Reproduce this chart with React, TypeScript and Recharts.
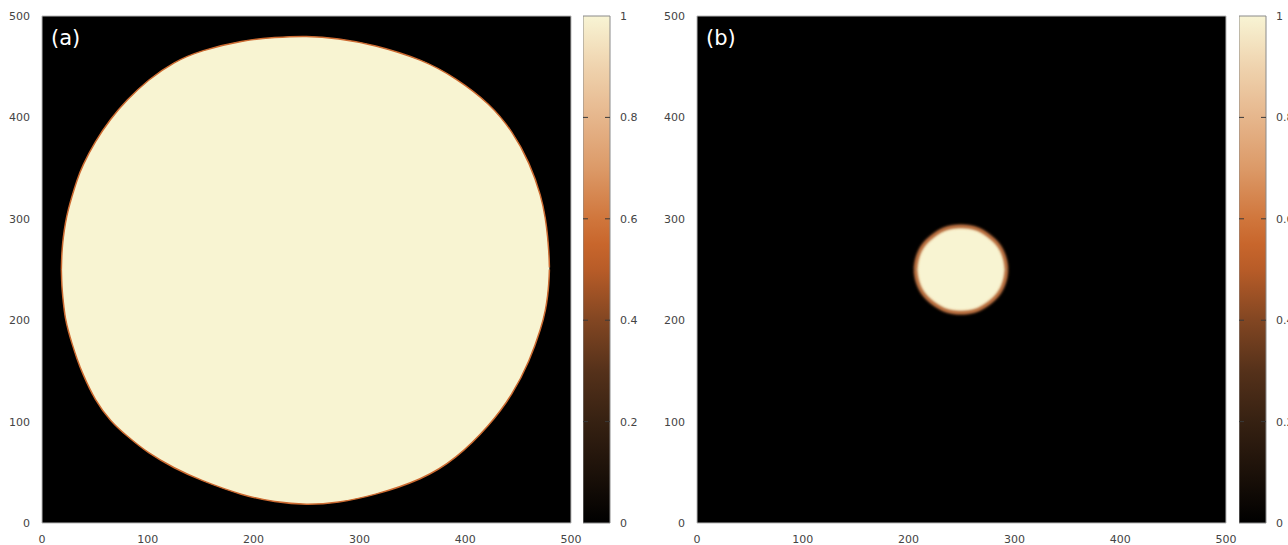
import React from 'react';
import { ComposedChart, Area, XAxis, YAxis, CartesianGrid, ReferenceArea, ReferenceLine } from 'recharts';

const axisTicks = [0, 100, 200, 300, 400, 500];
const colorbarTicks = [0, 0.2, 0.4, 0.6, 0.8, 1];

// (a) outline of the large domain
const bigX = [18.3, 18.6, 19, 20, 22, 25, 28, 33, 38, 50, 65, 80, 100, 125, 150, 190, 220, 250, 280, 313, 360, 391, 423, 445, 461, 472, 476, 478, 479, 479.4, 479.6];
const bigTop = [250, 262, 270, 281, 296, 310, 321, 338, 352, 376, 399, 417, 437, 455, 466, 476, 479, 480.5, 478, 472, 457, 439, 414, 386, 355, 322, 300, 282, 268, 260, 252];
const bigBottom = [250, 238, 230, 219, 201, 189, 178, 162, 148, 121, 100, 86, 69, 54, 42, 27, 20.5, 17.75, 20, 27, 43, 63, 96, 127, 160, 193, 210, 224, 236, 244, 250];

// (b) outline of the small droplet
const smallX = [206.5, 207, 208, 210, 213, 218, 225, 233, 241, 249.5, 258, 266, 274, 281, 286, 289, 291, 292, 292.5];
const smallTop = [250, 256, 261, 267, 273, 279, 285, 290, 292, 293, 292, 290, 285, 279, 273, 267, 261, 256, 250];
const smallBottom = [250, 244, 239, 233, 227, 221, 215, 210, 208, 207, 208, 210, 215, 221, 227, 233, 239, 244, 250];

const paletteStops = [
  [0, '#000000'],
  [0.1, '#1c1109'],
  [0.2, '#362112'],
  [0.3, '#55311a'],
  [0.4, '#824622'],
  [0.5, '#b85c28'],
  [0.55, '#c8662c'],
  [0.6, '#d0763c'],
  [0.7, '#dc9a68'],
  [0.8, '#e6b68c'],
  [0.9, '#efd3ae'],
  [1, '#f8f4d4'],
];

const bigRows = bigX.map((x, i) => ({ x, band: [bigBottom[i], bigTop[i]] }));
const smallRows = smallX.map((x, i) => ({ x, band: [smallBottom[i], smallTop[i]] }));
const colorbarRows = colorbarTicks.map((v) => ({ x: 0.5, v }));

const tickStyle = { fontSize: 11, fill: '#444', fontFamily: 'DejaVu Sans' };

function Panel({ rows, label, left, id, blur, rim }: any) {
  return (
    <div style={{ position: 'absolute', left, top: 0 }}>
      <ComposedChart width={600} height={560} data={rows} margin={{ top: 16, right: 29, bottom: 15, left: 12 }}>
        <defs>
          <filter id={id} x="-20%" y="-20%" width="140%" height="140%">
            <feGaussianBlur stdDeviation={blur} />
          </filter>
        </defs>
        <CartesianGrid horizontal={false} vertical={false} fill="#000" fillOpacity={1} />
        <XAxis
          dataKey="x"
          type="number"
          domain={[0, 500]}
          ticks={axisTicks}
          interval={0}
          height={22}
          tickSize={0}
          tickMargin={12}
          axisLine={false}
          tick={tickStyle}
        />
        <YAxis
          type="number"
          domain={[0, 500]}
          ticks={axisTicks}
          interval={0}
          width={30}
          tickSize={0}
          tickMargin={12}
          axisLine={false}
          tick={tickStyle}
        />
        <Area
          dataKey="band"
          type="basis"
          fill="#f8f4d2"
          fillOpacity={1}
          stroke="#cc6a30"
          strokeWidth={rim}
          filter={`url(#${id})`}
          dot={false}
          activeDot={false}
          isAnimationActive={false}
        />
        <ReferenceArea x1={0} x2={500} y1={0} y2={500} fill="none" stroke="#b8b8b8" strokeWidth={1} />
      </ComposedChart>
      <div
        style={{
          position: 'absolute',
          left: 51,
          top: 26,
          color: '#fff',
          fontSize: 21,
          lineHeight: '24px',
          fontFamily: 'DejaVu Sans',
        }}
      >
        {label}
      </div>
    </div>
  );
}

function Colorbar({ left, id }: any) {
  return (
    <div style={{ position: 'absolute', left, top: 0 }}>
      <ComposedChart width={67} height={560} data={colorbarRows} margin={{ top: 16, right: 0, bottom: 37, left: 0 }}>
        <defs>
          <linearGradient id={id} x1="0" y1="1" x2="0" y2="0">
            {paletteStops.map(([o, c]) => (
              <stop key={o as number} offset={o as number} stopColor={c as string} />
            ))}
          </linearGradient>
        </defs>
        <CartesianGrid horizontal={false} vertical={false} fill={`url(#${id})`} fillOpacity={1} />
        <XAxis dataKey="x" type="number" domain={[0, 1]} hide />
        <YAxis
          orientation="right"
          dataKey="v"
          type="number"
          domain={[0, 1]}
          ticks={colorbarTicks}
          interval={0}
          width={40}
          tickSize={0}
          tickMargin={10}
          axisLine={false}
          tick={tickStyle}
        />
        {colorbarTicks.slice(1, -1).map((v) => (
          <ReferenceLine key={v} y={v} stroke="#3a3a3a" strokeDasharray="5 17" />
        ))}
        <ReferenceArea x1={0} x2={1} y1={0} y2={1} fill="none" stroke="#8a8a8a" strokeWidth={1} />
      </ComposedChart>
    </div>
  );
}

export default function App() {
  return (
    <div
      style={{
        position: 'absolute',
        left: 0,
        top: 0,
        width: 1288,
        height: 545,
        overflow: 'hidden',
        background: '#fff',
      }}
    >
      <Panel rows={bigRows} label="(a)" left={0} id="blurA" blur={0.5} rim={1.5} />
      <Colorbar left={583} id="cmapA" />
      <Panel rows={smallRows} label="(b)" left={655} id="blurB" blur={1.6} rim={3} />
      <Colorbar left={1239} id="cmapB" />
    </div>
  );
}
